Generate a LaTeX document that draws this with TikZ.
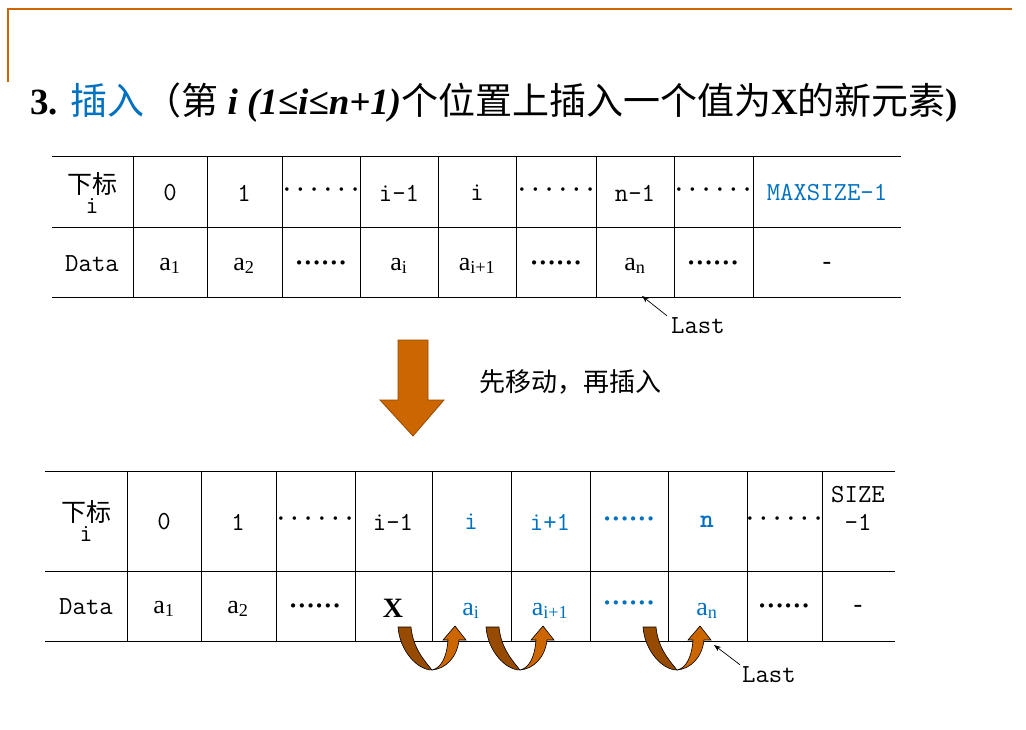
\documentclass[tikz,border=0pt]{standalone}
\usepackage{fontspec}
\usetikzlibrary{arrows.meta}
\setmainfont{Liberation Serif}
\newfontfamily\cjk{Noto Sans CJK SC}
\definecolor{frame}{RGB}{204,102,0}
\definecolor{arr}{RGB}{204,102,0}
\definecolor{arrd}{RGB}{150,75,0}
\definecolor{tblue}{RGB}{0,112,192}
\newcommand{\dd}{\textbf{······}}
\newcommand{\sub}[1]{a\textsubscript{#1}}
\begin{document}
\begin{tikzpicture}[x=1pt,y=-1pt,
  t/.style={font=\fontsize{26}{28}\selectfont, inner sep=0pt},
  tt/.style={font=\fontsize{26}{28}\selectfont\ttfamily, inner sep=0pt},
  ck/.style={font=\fontsize{26}{28}\selectfont\cjk, inner sep=0pt},
  bl/.style={text=tblue},
  grid/.style={line width=1pt},
  lastarr/.style={-{Stealth[length=7pt]}, line width=0.7pt}]
\useasboundingbox (0,0) rectangle (1026,730);
% frame
\draw[frame, line width=1.5pt] (8,82) -- (8,9) -- (1012,9);
% title
\node[anchor=west, inner sep=0pt, font=\fontsize{37}{40}\selectfont] (title) at (30,103)
 {\textbf{3.} \textcolor{tblue}{\cjk 插入}{\cjk （第} \textbf{\textit{i (1≤i≤n+1)}}{\cjk 个位置上插入一个值为}\textbf{X}{\cjk 的新元素}\textbf{)}};
% table 1
\foreach \y in {157,228,298} \draw[grid] (52,\y) -- (901,\y);
\foreach \x in {133,207,282,360,438,516,596,674,753} \draw[grid] (\x,157) -- (\x,298);
\node[ck, align=center, font=\fontsize{25}{24}\selectfont\cjk] (h1) at (92,193) {下标\\[-4pt]{\ttfamily i}};
\foreach \x/\s [count=\k] in {170/0,244/1,321/\dd,399/i-1,477/i,556/\dd,635/n-1,713/\dd}
  \node[tt] (ta\k) at (\x,193) {\s};
\node[tt, bl] (ta9) at (827,193) {MAXSIZE-1};
\node[tt] (d1) at (92,264) {Data};
\foreach \x/\s [count=\k] in {170/\sub{1},244/\sub{2},321/\dd,399/\sub{i},477/\sub{i+1},556/\dd,635/\sub{n},713/\dd,827/-}
  \node[t] (tb\k) at (\x,266) {\s};
\node[tt, anchor=west] (last1) at (671,326) {Last};
\coordinate (l1) at (642,296);
\draw[lastarr] (last1.north west) ++(-4,-2) -- (l1);
% big arrow
\fill[arr, draw=arrd, line width=0.8pt] (398,340) -- (428,340) -- (428,400) -- (444,400) -- (413,436) -- (380,400) -- (398,400) -- cycle;
\node[ck, anchor=west] (step) at (479,382) {先移动，再插入};
% table 2
\foreach \y in {471,571,641} \draw[grid] (45,\y) -- (895,\y);
\foreach \x in {127,201,276,355,432,511,590,668,747,822} \draw[grid] (\x,471) -- (\x,641);
\node[ck, align=center, font=\fontsize{25}{24}\selectfont\cjk] (h2) at (86,521) {下标\\[-4pt]{\ttfamily i}};
\foreach \x/\s [count=\k] in {164/0,238/1,315/\dd,393/i-1,784/\dd}
  \node[tt] (sa\k) at (\x,522) {\s};
\node[tt,bl] (sb1) at (471,522) {i};
\node[tt,bl] (sb2) at (550,522) {i+1};
\node[t,bl] (sb3) at (629,522) {\dd};
\node[tt,bl,font=\fontsize{26}{28}\selectfont\ttfamily\bfseries] (sb4) at (707,522) {n};
\node[tt, align=center] (sb5) at (858,508) {SIZE\\-1};
\node[tt] (d2) at (86,607) {Data};
\foreach \x/\s [count=\k] in {164/\sub{1},238/\sub{2},315/\dd,784/\dd,858/-}
  \node[t] (sc\k) at (\x,609) {\s};
\node[t, font=\fontsize{28}{30}\selectfont\bfseries] (xx) at (393,608) {X};
\node[t,bl] (sd1) at (471,611) {\sub{i}};
\node[t,bl] (sd2) at (550,611) {\sub{i+1}};
\node[t,bl] (sd3) at (629,606) {\dd};
\node[t,bl] (sd4) at (707,611) {\sub{n}};
\node[tt, anchor=west] (last2) at (742,675) {Last};
\coordinate (l2) at (714,645);
\draw[lastarr] (last2.north west) ++(-2,-2) -- (l2);
% curved arrows
\foreach \o in {0,88,245}{
 \begin{scope}[xshift=\o]
 \fill[arrd, draw=black, line width=0.6pt] (398,627) .. controls (400,652) and (418,670) .. (432,670)
   .. controls (424,660) and (413,648) .. (411,627) -- cycle;
 \fill[arr, draw=black, line width=0.6pt] (432,670) .. controls (442,668) and (447,655) .. (448,640)
   -- (443,640) -- (455,626) -- (466,640) -- (459,640) .. controls (457,658) and (445,669) .. (432,670) -- cycle;
 \end{scope}}
\end{tikzpicture}
\end{document}
